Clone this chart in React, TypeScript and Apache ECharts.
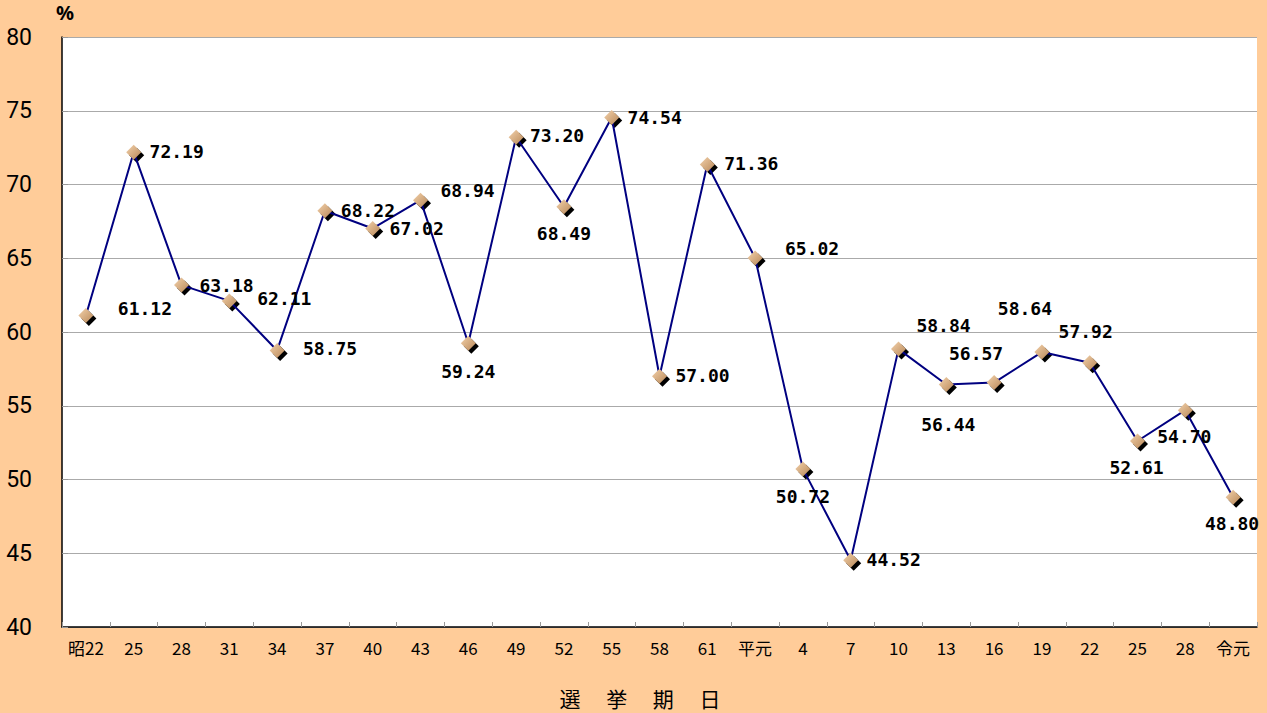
import React, { useEffect, useRef } from "react";
import * as echarts from "echarts";

const categories = ["昭22","25","28","31","34","37","40","43","46","49","52","55","58","61","平元","4","7","10","13","16","19","22","25","28","令元"];
const turnout = [61.12,72.19,63.18,62.11,58.75,68.22,67.02,68.94,59.24,73.20,68.49,74.54,57.00,71.36,65.02,50.72,44.52,58.84,56.44,56.57,58.64,57.92,52.61,54.70,48.80];
const yTicks = { min: 40, max: 80, interval: 5 };
// label offsets (pixels) relative to each marker
const labelOffsets: [number, number][] = [
  [59,-7],[43,-1],[45,0],[55,-2],[53,-2],[43,0],[44,0],[47,-10],[0,28],[41,-2],
  [0,27],[43,0],[43,-1],[44,-1],[57,-9],[0,28],[43,-1],[45,-24],[2,40],[-18,-29],
  [-17,-44],[-4,-31],[-1,26],[-1,26],[-1,26]
];

export default function App() {
  const ref = useRef<HTMLDivElement>(null);
  useEffect(() => {
    const chart = echarts.init(ref.current!, null, { renderer: "svg" });
    const labelStyle = {
      fontFamily: "'DejaVu Sans Mono', monospace",
      fontWeight: "bold",
      fontSize: 18,
      color: "#000",
    };
    chart.setOption({
      animation: false,
      backgroundColor: "#FFCC99",
      grid: {
        left: 62, right: 10, top: 37, bottom: 86,
        show: true, backgroundColor: "#FFFFFF", borderWidth: 0,
      },
      xAxis: {
        type: "category",
        data: categories,
        boundaryGap: true,
        axisLine: { lineStyle: { color: "#000", width: 1.5 } },
        axisTick: { show: true, inside: true, length: 5, lineStyle: { color: "#999" } },
        axisLabel: { color: "#000", fontSize: 17, fontFamily: "'Noto Sans CJK JP'", margin: 12, interval: 0 },
      },
      yAxis: {
        type: "value",
        min: yTicks.min, max: yTicks.max, interval: yTicks.interval,
        axisLine: { show: true, lineStyle: { color: "#000", width: 1.5 } },
        axisTick: { show: true, inside: true, length: 6, lineStyle: { color: "#999" } },
        axisLabel: { color: "#000", fontSize: 23, fontFamily: "Roboto", margin: 30, align: "right" },
        splitLine: { lineStyle: { color: "#AAAAAA", width: 1 } },
      },
      graphic: [
        { type: "text", left: 56, top: 2, style: { text: "%", fontSize: 20, fontFamily: "'Noto Sans'", fontWeight: "bold", fill: "#000" } },
        { type: "text", x: 640, y: 698, style: { text: "選　 挙　 期　 日", fontSize: 21, fontFamily: "'Noto Sans CJK JP'", fill: "#000", align: "center", verticalAlign: "middle" } },
      ],
      series: [
        {
          type: "line",
          data: turnout,
          z: 1,
          symbol: "diamond",
          symbolSize: 15,
          symbolOffset: [3, 3],
          showAllSymbol: true,
          lineStyle: { width: 0, opacity: 0 },
          itemStyle: { color: "#000" },
          silent: true,
        },
        {
          type: "line",
          data: turnout.map((v, i) => ({
            value: v,
            label: {
              show: true,
              position: "inside",
              offset: labelOffsets[i],
              formatter: v.toFixed(2),
              ...labelStyle,
            },
          })),
          z: 2,
          symbol: "diamond",
          symbolSize: 15,
          showAllSymbol: true,
          lineStyle: { color: "#000080", width: 2 },
          itemStyle: {
            color: new echarts.graphic.LinearGradient(0, 0, 1, 1, [
              { offset: 0, color: "#F3D2AC" },
              { offset: 1, color: "#B98858" },
            ]),
            borderWidth: 0,
          },
        },
      ],
    });
    return () => chart.dispose();
  }, []);
  return <div ref={ref} style={{ width: 1267, height: 713, position: "absolute", left: 0, top: 0 }} />;
}
